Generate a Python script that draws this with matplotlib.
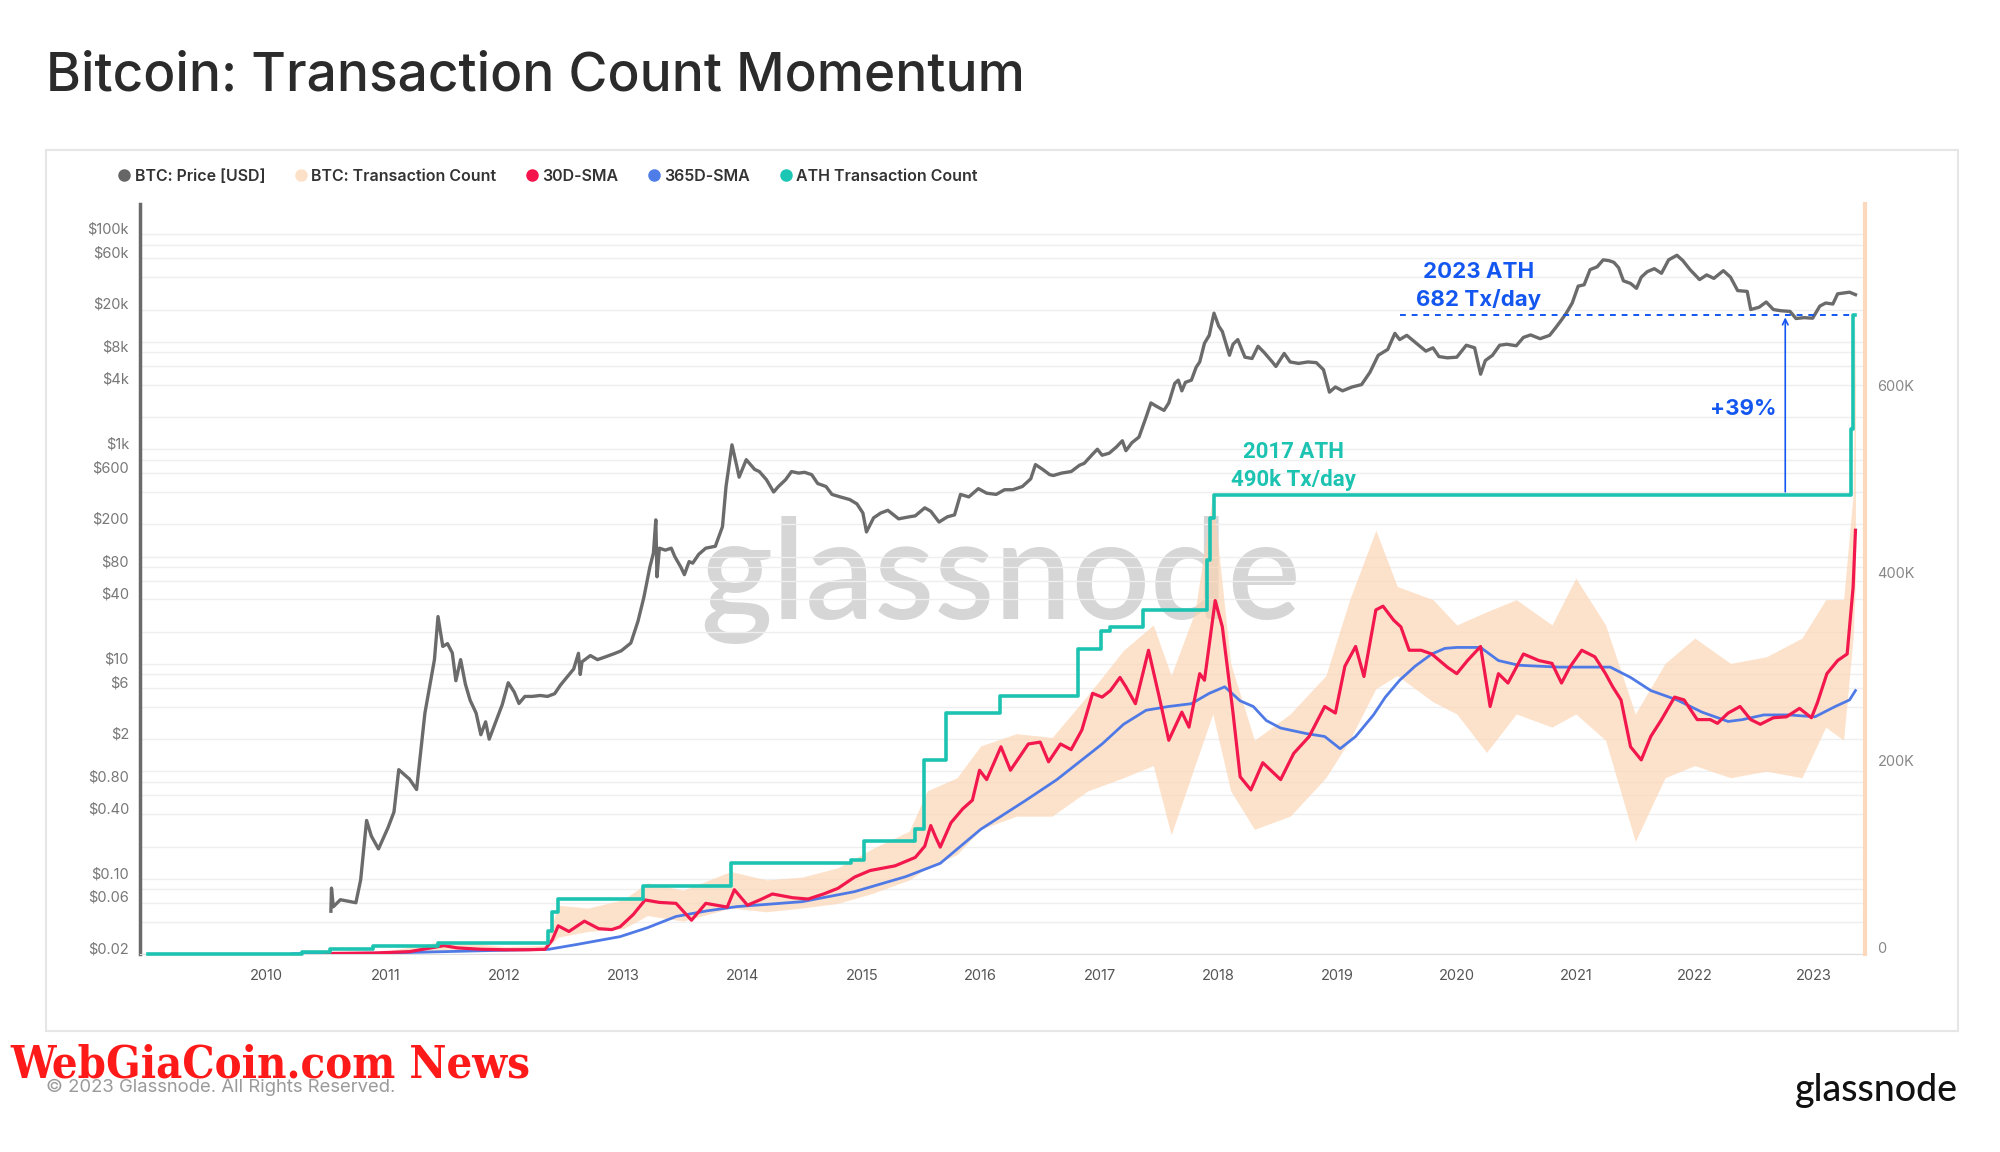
import matplotlib.pyplot as plt
from matplotlib.lines import Line2D
from matplotlib.patches import Rectangle
from matplotlib.transforms import ScaledTranslation

plt.rcParams['font.family'] = ['Inter', 'DejaVu Sans']

# BTC price [USD]
price_years = [2010.54, 2010.545, 2010.56, 2010.62, 2010.75, 2010.79, 2010.84, 2010.88, 2010.94, 2011.02,
               2011.07, 2011.11, 2011.20, 2011.26, 2011.33, 2011.41, 2011.44, 2011.48, 2011.52, 2011.56,
               2011.59, 2011.63, 2011.67, 2011.71, 2011.76, 2011.80, 2011.84, 2011.87, 2011.93, 2011.98,
               2012.03, 2012.08, 2012.12, 2012.17, 2012.23, 2012.30, 2012.36, 2012.42, 2012.47, 2012.53,
               2012.58, 2012.62, 2012.635, 2012.65, 2012.72, 2012.78, 2012.83, 2012.92, 2012.98, 2013.06,
               2013.12, 2013.17, 2013.22, 2013.25, 2013.27, 2013.28, 2013.30, 2013.35, 2013.40, 2013.43,
               2013.48, 2013.51, 2013.55, 2013.58, 2013.63, 2013.69, 2013.77, 2013.83, 2013.86, 2013.91,
               2013.95, 2013.97, 2014.03, 2014.10, 2014.14, 2014.20, 2014.26, 2014.30, 2014.36, 2014.41,
               2014.47, 2014.52, 2014.58, 2014.63, 2014.70, 2014.75, 2014.82, 2014.90, 2014.96, 2015.01,
               2015.04, 2015.10, 2015.16, 2015.22, 2015.31, 2015.40, 2015.45, 2015.53, 2015.58, 2015.65,
               2015.72, 2015.78, 2015.83, 2015.90, 2015.98, 2016.05, 2016.13, 2016.20, 2016.27, 2016.35,
               2016.42, 2016.46, 2016.52, 2016.58, 2016.61, 2016.68, 2016.76, 2016.83, 2016.87, 2016.94,
               2016.98, 2017.02, 2017.08, 2017.14, 2017.19, 2017.22, 2017.27, 2017.33, 2017.39, 2017.43,
               2017.48, 2017.54, 2017.58, 2017.63, 2017.66, 2017.69, 2017.72, 2017.77, 2017.81, 2017.84,
               2017.88, 2017.92, 2017.96, 2018.00, 2018.03, 2018.09, 2018.12, 2018.16, 2018.22, 2018.28,
               2018.33, 2018.38, 2018.45, 2018.48, 2018.55, 2018.60, 2018.67, 2018.75, 2018.82, 2018.88,
               2018.93, 2018.98, 2019.04, 2019.12, 2019.20, 2019.27, 2019.34, 2019.42, 2019.48, 2019.52,
               2019.58, 2019.66, 2019.74, 2019.80, 2019.85, 2019.92, 2020.00, 2020.08, 2020.15, 2020.20,
               2020.24, 2020.30, 2020.36, 2020.42, 2020.50, 2020.56, 2020.62, 2020.70, 2020.78, 2020.83,
               2020.88, 2020.92, 2020.97, 2021.02, 2021.07, 2021.12, 2021.18, 2021.23, 2021.28, 2021.32,
               2021.36, 2021.40, 2021.46, 2021.51, 2021.55, 2021.60, 2021.66, 2021.72, 2021.78, 2021.85,
               2021.90, 2021.96, 2022.04, 2022.10, 2022.16, 2022.24, 2022.30, 2022.36, 2022.44, 2022.47,
               2022.54, 2022.60, 2022.66, 2022.72, 2022.80, 2022.85, 2022.92, 2022.99, 2023.05, 2023.10,
               2023.16, 2023.20, 2023.25, 2023.30, 2023.35]
price_usd = [0.05, 0.082, 0.055, 0.064, 0.060, 0.098, 0.35, 0.25, 0.19, 0.30,
             0.42, 1.04, 0.85, 0.68, 3.5, 11, 27.7, 14.6, 15.5, 12.7,
             7.0, 11, 6.5, 4.6, 3.5, 2.2, 2.9, 2.0, 3.0, 4.2,
             6.7, 5.5, 4.3, 5.0, 5.0, 5.1, 5.0, 5.3, 6.4, 7.7,
             9.0, 12.6, 8.0, 10.5, 12, 11, 11.5, 12.5, 13.3, 15.7,
             25, 42, 80, 108, 220, 65, 120, 115, 120, 100,
             80, 68, 90, 87, 105, 120, 125, 190, 450, 1100,
             700, 550, 800, 650, 620, 520, 400, 450, 520, 620,
             600, 610, 580, 480, 450, 380, 360, 340, 310, 255,
             170, 230, 255, 270, 225, 235, 240, 285, 265, 210,
             235, 245, 380, 360, 430, 390, 380, 420, 420, 450,
             530, 720, 650, 580, 570, 600, 620, 710, 740, 900,
             1000, 880, 920, 1050, 1200, 970, 1150, 1300, 2000, 2700,
             2500, 2300, 2700, 4100, 4400, 3500, 4200, 4400, 5800, 6500,
             9700, 11500, 18500, 14000, 12500, 7500, 9500, 10500, 7200, 7000,
             9100, 8000, 6500, 5900, 7800, 6500, 6300, 6500, 6400, 5500,
             3400, 3800, 3500, 3800, 4000, 5200, 7500, 8500, 12000, 10500,
             11500, 9700, 8200, 8800, 7300, 7100, 7200, 9300, 8800, 5000,
             6700, 7500, 9300, 9500, 9200, 11000, 11600, 10700, 11500, 13500,
             16000, 18500, 23000, 33000, 34000, 47000, 50000, 58000, 57000, 55000,
             49000, 37000, 35000, 31500, 40000, 45000, 48000, 43500, 58000, 64000,
             57000, 47000, 38000, 42000, 39000, 46000, 40000, 30000, 29500, 20000,
             21000, 23500, 20000, 19500, 19200, 16500, 16800, 16600, 21500, 23000,
             22500, 28000, 28500, 29000, 27500]

# BTC transaction count, daily range (low / high envelope) [K tx]
tx_years = [2011.00, 2011.50, 2012.00, 2012.34, 2012.45, 2012.70, 2013.00, 2013.20, 2013.50, 2013.90,
            2014.20, 2014.50, 2014.80, 2015.10, 2015.40, 2015.55, 2015.80, 2016.00, 2016.30, 2016.60,
            2016.90, 2017.20, 2017.45, 2017.60, 2017.80, 2017.95, 2018.10, 2018.30, 2018.60, 2018.90,
            2019.10, 2019.32, 2019.50, 2019.80, 2020.00, 2020.25, 2020.50, 2020.80, 2021.00, 2021.25,
            2021.50, 2021.75, 2022.00, 2022.30, 2022.60, 2022.90, 2023.10, 2023.25, 2023.33, 2023.35]
tx_low = [1, 4, 3, 4, 18, 24, 27, 41, 35, 49,
          45, 49, 54, 65, 79, 92, 106, 133, 147, 147,
          174, 188, 201, 127, 201, 256, 174, 133, 147, 188,
          228, 283, 297, 269, 256, 215, 256, 242, 256, 228,
          120, 188, 201, 188, 195, 188, 242, 228, 337, 400]
tx_high = [3, 14, 8, 9, 52, 49, 58, 76, 68, 88,
           79, 82, 92, 113, 131, 174, 188, 222, 235, 231,
           276, 324, 351, 297, 365, 490, 310, 228, 256, 297,
           378, 452, 392, 378, 351, 365, 378, 351, 401, 351,
           256, 310, 337, 310, 317, 337, 378, 378, 490, 682]

# 30-day SMA [K tx]
sma30_years = [2010.50, 2010.90, 2011.20, 2011.49, 2011.60, 2011.80, 2012.00, 2012.20, 2012.34, 2012.40,
               2012.45, 2012.54, 2012.67, 2012.79, 2012.90, 2012.97, 2013.08, 2013.18, 2013.30, 2013.44,
               2013.57, 2013.69, 2013.87, 2013.93, 2014.04, 2014.15, 2014.25, 2014.42, 2014.55, 2014.68,
               2014.80, 2014.94, 2015.07, 2015.28, 2015.45, 2015.53, 2015.58, 2015.62, 2015.66, 2015.75,
               2015.85, 2015.93, 2015.99, 2016.05, 2016.17, 2016.25, 2016.40, 2016.50, 2016.57, 2016.67,
               2016.76, 2016.85, 2016.94, 2017.02, 2017.09, 2017.17, 2017.22, 2017.30, 2017.41, 2017.50,
               2017.58, 2017.69, 2017.75, 2017.84, 2017.88, 2017.97, 2018.03, 2018.12, 2018.18, 2018.27,
               2018.37, 2018.52, 2018.63, 2018.76, 2018.89, 2018.98, 2019.06, 2019.15, 2019.22, 2019.32,
               2019.38, 2019.47, 2019.53, 2019.60, 2019.70, 2019.79, 2019.92, 2020.00, 2020.09, 2020.20,
               2020.28, 2020.35, 2020.43, 2020.56, 2020.69, 2020.80, 2020.88, 2020.95, 2021.05, 2021.16,
               2021.25, 2021.31, 2021.38, 2021.46, 2021.55, 2021.63, 2021.72, 2021.83, 2021.91, 2022.02,
               2022.13, 2022.19, 2022.28, 2022.38, 2022.47, 2022.55, 2022.66, 2022.77, 2022.88, 2022.98,
               2023.03, 2023.11, 2023.20, 2023.28, 2023.33, 2023.35]
sma30 = [0.5, 1.0, 2.5, 8.9, 6.5, 5, 4.5, 4.5, 5, 15,
         30, 24, 35, 27, 26, 29, 42, 57.6, 55, 54,
         36, 54, 50, 68.6, 52, 58, 64, 60, 58.6, 64,
         70, 82, 89, 94, 103, 115, 137, 125, 114, 140,
         155, 164, 196, 186, 221, 196, 224, 226, 205, 224,
         218, 239, 278, 274, 281, 295, 285, 267, 324, 274,
         228, 258, 242, 299, 292, 377, 349, 257, 189, 175,
         204, 186, 214, 232, 264, 257, 307, 328, 296, 367,
         371, 356, 349, 324, 324, 320, 306, 299, 313, 328,
         264, 299, 289, 320, 313, 310, 289, 306, 324, 317,
         299, 285, 271, 221, 207, 232, 250, 274, 271, 250,
         250, 246, 257, 264, 250, 245, 252, 253, 262, 252,
         268, 299, 313, 320, 391, 452]

# 365-day SMA [K tx]
sma365_years = [2010.22, 2010.60, 2011.00, 2011.50, 2012.00, 2012.37, 2012.60, 2012.97, 2013.20, 2013.44,
                2013.70, 2013.95, 2014.50, 2014.94, 2015.37, 2015.66, 2016.00, 2016.38, 2016.64, 2017.02,
                2017.20, 2017.39, 2017.58, 2017.77, 2017.92, 2018.05, 2018.18, 2018.29, 2018.40, 2018.52,
                2018.74, 2018.89, 2019.02, 2019.15, 2019.30, 2019.40, 2019.52, 2019.65, 2019.79, 2019.90,
                2020.00, 2020.20, 2020.35, 2020.52, 2020.86, 2021.12, 2021.29, 2021.46, 2021.63, 2021.85,
                2022.06, 2022.28, 2022.40, 2022.58, 2022.79, 2023.01, 2023.18, 2023.30, 2023.35]
sma365 = [0.2, 0.5, 1.0, 2.5, 4, 5, 10, 18.5, 28, 40,
          46, 50.5, 55.8, 66.5, 82.5, 96.7, 133, 164, 186, 224,
          245, 260, 264, 267, 278, 285, 270, 264, 249, 241,
          235, 232, 219, 232, 255, 274, 292, 307, 320, 326,
          327, 327, 313, 308, 306, 306, 306, 295, 281, 271,
          258, 248, 250, 255, 255, 253, 264, 271, 281]

# ATH transaction count (running maximum, step line) [K tx]
ath_years = [2009.00, 2010.30, 2010.53, 2010.89, 2011.44, 2012.36, 2012.40, 2012.45, 2013.16, 2013.90,
             2014.91, 2015.02, 2015.45, 2015.52, 2015.71, 2016.16, 2016.82, 2017.01, 2017.09, 2017.36,
             2017.90, 2017.93, 2017.96, 2023.31, 2023.33, 2023.35]
ath_tx = [0.3, 2.5, 5, 8, 12, 25, 45, 59, 72, 97,
          100, 120, 133, 207, 257, 275, 325, 344, 349, 367,
          420, 465, 490, 560, 682, 682]

ath_2017 = 490
ath_2023 = 682
dash_start = 2019.52
arrow_year = 2022.76

year_ticks = list(range(2010, 2024))
price_ticks = [1e5, 6e4, 2e4, 8e3, 4e3, 1e3, 600, 200, 80, 40, 10, 6, 2, 0.8, 0.4, 0.1, 0.06, 0.02]
price_labels = ['$100k', '$60k', '$20k', '$8k', '$4k', '$1k', '$600', '$200', '$80', '$40',
                '$10', '$6', '$2', '$0.80', '$0.40', '$0.10', '$0.06', '$0.02']
price_grid = [m * 10.0 ** d for d in range(-2, 6) for m in (1, 2, 4, 6, 8)]
tx_ticks = [0, 200, 400, 600]
tx_labels = ['0', '200K', '400K', '600K']

c_price = '#6b6b6b'
c_tx = '#fdd3b0'
c_red = '#f2184d'
c_blue = '#4f7ae6'
c_teal = '#1dc3b1'
c_ann = '#1357f0'

fig = plt.figure(figsize=(20, 11.52), dpi=100)
fig.add_artist(Rectangle((0.023, 0.105), 0.956, 0.765, transform=fig.transFigure,
                         fill=False, edgecolor='#e6e6e6', lw=1.5))

ax = fig.add_axes([0.07, 0.1719, 0.8625, 0.651])
ax2 = ax.twinx()

# price axis (left, log)
ax.set_yscale('log')
ax.set_ylim(0.02, 1.92e5)
ax.set_xlim(2008.936, 2023.43)
ax.set_yticks(price_ticks)
ax.set_yticklabels([s.replace('$', r'\$') for s in price_labels])
ax.set_yticks([v for v in price_grid if v not in price_ticks and 0.02 <= v <= 1.92e5], minor=True)
ax.yaxis.set_minor_formatter(plt.NullFormatter())
ax.grid(True, which='both', axis='y', color='#efefef', lw=1)
ax.set_xticks(year_ticks)
ax.set_xticklabels([str(y) for y in year_ticks])
ax.tick_params(axis='y', which='both', length=0, labelsize=10.5, labelcolor='#777777', pad=8)
ax.tick_params(axis='x', length=0, labelsize=10.5, labelcolor='#555555', pad=11)
for s in ['top', 'right']:
    ax.spines[s].set_visible(False)
ax.spines['left'].set_color('#6a6a6a')
ax.spines['left'].set_linewidth(2.5)
ax.spines['bottom'].set_color('#dddddd')

ax.text(0.5005, 0.4627, 'glassnode', transform=fig.transFigure, ha='center', va='baseline',
        fontsize=99, color='#d6d6d6', family='Lato', fontweight='semibold', zorder=0.5)
ax.plot(price_years, price_usd, color=c_price, lw=2.4, zorder=3)

# transaction axis (right, linear)
ax2.set_ylim(0, 800)
ax2.set_yticks(tx_ticks)
ax2.set_yticklabels(tx_labels)
ax2.tick_params(axis='y', length=0, labelsize=10.5, labelcolor='#888888', pad=9)
for s in ['top', 'left', 'bottom']:
    ax2.spines[s].set_visible(False)
ax2.spines['right'].set_color('#fcd9bd')
ax2.spines['right'].set_linewidth(3)

# tick labels sit a little above their gridlines, as in the source
lift = ScaledTranslation(0, 4.5 / 72, fig.dpi_scale_trans)
for lbl in ax.get_yticklabels() + ax2.get_yticklabels():
    lbl.set_transform(lbl.get_transform() + lift)

ax2.fill_between(tx_years, tx_low, tx_high, color=c_tx, alpha=0.65, lw=0, zorder=1)
ax2.plot(sma365_years, sma365, color=c_blue, lw=2, zorder=2)
ax2.plot(sma30_years, sma30, color=c_red, lw=2.3, zorder=3)
ax2.plot(ath_years, ath_tx, color=c_teal, lw=2.6, drawstyle='steps-post', zorder=4, clip_on=False)

ax2.hlines(ath_2023, dash_start, ath_years[-2], colors=c_ann, linestyles=(0, (3, 3)), lw=1.4, zorder=5)
ax2.annotate('', xy=(arrow_year, ath_2023), xytext=(arrow_year, ath_2017),
             arrowprops=dict(arrowstyle='->', color=c_ann, lw=1.2), zorder=5)
ax2.text(arrow_year - 0.07, 581, '+39%', color=c_ann, ha='right', va='center',
         fontsize=16, fontweight='bold')
ax2.text(2020.18, 728, '2023 ATH', color=c_ann, ha='center', va='center', fontsize=16, fontweight='bold')
ax2.text(2020.18, 698, '682 Tx/day', color=c_ann, ha='center', va='center', fontsize=16, fontweight='bold')
ax2.text(2018.63, 536, '2017 ATH', color=c_teal, ha='center', va='center', fontsize=16,
         fontweight='bold', family='Roboto')
ax2.text(2018.63, 506, '490k Tx/day', color=c_teal, ha='center', va='center', fontsize=16,
         fontweight='bold', family='Roboto')

# legend
names = ['BTC: Price [USD]', 'BTC: Transaction Count', '30D-SMA', '365D-SMA', 'ATH Transaction Count']
dots = ['#666666', '#fde0c8', '#f5134b', '#4f7de8', '#1bc6b4']
handles = [Line2D([], [], ls='', marker='o', markersize=8, color=c) for c in dots]
ax2.legend(handles, names, ncol=5, loc='center left', bbox_to_anchor=(0.055, 0.8472),
           bbox_transform=fig.transFigure, frameon=False, borderpad=0, handlelength=0.8,
           handletextpad=0.25, columnspacing=1.83, prop=dict(family='Inter', weight='semibold', size=11.5),
           labelcolor='#333333')

# titles and footer
fig.text(0.023, 0.9332, 'Bitcoin: Transaction Count Momentum', fontsize=38.3, fontweight='medium',
         color='#2b2b2b', va='center')
fig.text(0.023, 0.0564, '\u00a9 2023 Glassnode. All Rights Reserved.', fontsize=13.3, color='#9a9a9a', va='center')
fig.text(0.005, 0.0755, 'WebGiaCoin.com News', fontsize=32.5, color='#ff1a1a', va='center',
         family='DejaVu Serif', fontweight='bold', fontstretch='condensed')
fig.text(0.979, 0.0538, 'glassnode', fontsize=27, color='#111111', va='center', ha='right',
         family='Lato', fontweight='medium')

fig.savefig('out.png', dpi=100, facecolor='white')
